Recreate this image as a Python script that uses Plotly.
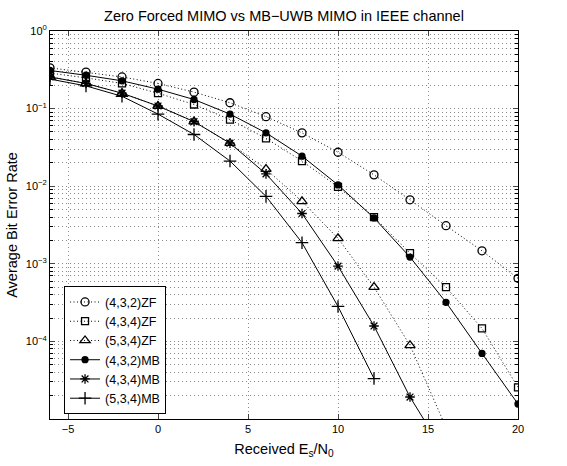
import plotly.graph_objects as go

# ---- data ----
snr = [-6, -4, -2, 0, 2, 4, 6, 8, 10, 12, 14, 16, 18, 20]

zf_432 = [0.335, 0.296, 0.256, 0.211, 0.163, 0.119, 0.0787, 0.0487, 0.0274, 0.014,
          0.00668, 0.0031, 0.00147, 0.00065]
zf_434 = [0.287, 0.249, 0.211, 0.158, 0.113, 0.0722, 0.0414, 0.0211, 0.0098, 0.0040,
          0.00137, 0.0005, 0.000147, 2.56e-5]
zf_534 = [0.256, 0.211, 0.158, 0.108, 0.068, 0.0358, 0.0166, 0.00637, 0.00213, 0.0005,
          8.9e-5, 7.8e-6]
mb_432 = [0.310, 0.269, 0.228, 0.178, 0.131, 0.085, 0.0487, 0.0244, 0.0104, 0.0039,
          0.00122, 0.000319, 7.0e-5, 1.56e-5]
mb_434 = [0.256, 0.211, 0.158, 0.108, 0.068, 0.0358, 0.0144, 0.00445, 0.000935, 0.000158,
          1.92e-5, 3.4e-6]
mb_534 = [0.240, 0.196, 0.144, 0.085, 0.0464, 0.0211, 0.0074, 0.00187, 0.000282, 3.32e-5]

names = ["(4,3,2)ZF", "(4,3,4)ZF", "(5,3,4)ZF", "(4,3,2)MB", "(4,3,4)MB", "(5,3,4)MB"]
series = [zf_432, zf_434, zf_534, mb_432, mb_434, mb_534]
symbols = ["circle-open", "square-open", "triangle-up-open", "circle", "asterisk-open", "cross-thin-open"]
msizes = [8, 7, 9, 6, 8, 9]
dashes = ["1px,2.5px", "1px,2.5px", "1px,2.5px", "solid", "solid", "solid"]

x_ticks = [-5, 0, 5, 10, 15, 20]
y_tickvals = [1, 0.1, 0.01, 0.001, 0.0001]
y_ticktext = ["10<sup>0</sup>", "10<sup>−1</sup>", "10<sup>−2</sup>", "10<sup>−3</sup>", "10<sup>−4</sup>"]

FONT = "Liberation Sans, Arial, Helvetica, sans-serif"
GRID = "#8a8a8a"
GDASH = "1px,3px"

fig = go.Figure()
for name, y, sym, ms, dash in zip(names, series, symbols, msizes, dashes):
    fig.add_trace(go.Scatter(
        x=snr[:len(y)], y=y, name=name, mode="lines+markers",
        line=dict(color="black", width=1, dash=dash),
        marker=dict(symbol=sym, size=ms, color="black",
                    line=dict(color="black", width=1.3)),
        cliponaxis=True,
    ))

fig.update_layout(
    width=567, height=466,
    margin=dict(l=50, r=49, t=31, b=35),
    paper_bgcolor="white", plot_bgcolor="white",
    font=dict(family=FONT, size=11, color="black"),
    title=dict(text="Zero Forced MIMO vs MB−UWB MIMO in IEEE channel",
               x=284 / 567, xanchor="center", y=1 - 16 / 466, yanchor="middle",
               font=dict(size=14.5, family=FONT)),
    showlegend=True,
    legend=dict(x=0.03, y=0.012, xanchor="left", yanchor="bottom",
                bgcolor="white", bordercolor="black", borderwidth=1,
                font=dict(size=12.5, family=FONT), tracegroupgap=0,
                itemwidth=30),
)

fig.update_xaxes(
    range=[-6, 20], tickvals=x_ticks, ticks="inside", ticklen=5,
    showline=True, linecolor="black", linewidth=1, mirror="allticks",
    showgrid=True, gridcolor=GRID, griddash=GDASH, gridwidth=1,
    zeroline=False,
    title=dict(text="Received E<sub>s</sub>/N<sub>0</sub>", font=dict(size=14.5, family=FONT), standoff=9),
    tickfont=dict(size=11),
)
fig.update_yaxes(
    type="log", range=[-5, 0], tickvals=y_tickvals, ticktext=y_ticktext,
    ticks="inside", ticklen=5,
    showline=True, linecolor="black", linewidth=1, mirror="allticks",
    showgrid=True, gridcolor=GRID, griddash=GDASH, gridwidth=1,
    minor=dict(ticks="inside", ticklen=3, showgrid=True, gridcolor=GRID,
               griddash=GDASH, gridwidth=1, tickcolor="black", dtick="D1"),
    zeroline=False,
    title=dict(text="Average Bit Error Rate", font=dict(size=14.5, family=FONT), standoff=4),
    tickfont=dict(size=11),
)

fig.write_html("out.html")
